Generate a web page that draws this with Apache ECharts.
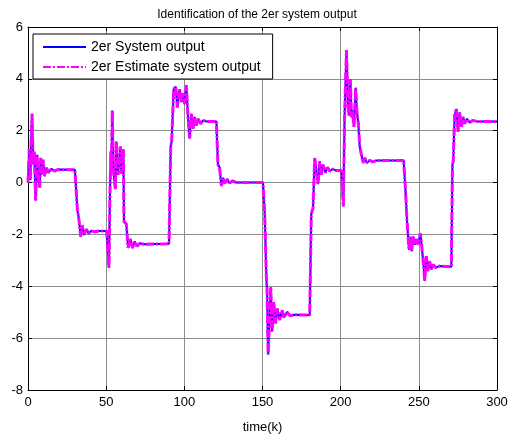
<!DOCTYPE html>
<html>
<head>
<meta charset="utf-8">
<script src="https://cdn.jsdelivr.net/npm/echarts@6/dist/echarts.min.js"></script>
<style>
  html, body { margin: 0; padding: 0; background: #fff; }
  #chart { width: 514px; height: 439px; }
</style>
</head>
<body>
<div id="chart"></div>
<script>
// time index (k) of each read-off point
const timeK = [
  0, 0.8, 1.5, 2.0, 2.6, 3.3, 4.0, 4.9, 5.8, 6.6, 7.5, 8.1, 9.0, 9.6, 10.7, 11.8, 13.2, 15, 17, 19, 30,
  31.6, 32.4, 33.7, 34.6, 35.8, 37.3, 38.8, 40.5, 42.7, 45, 50.3,
  51.0, 51.8, 52.4, 53.0, 53.3, 53.9, 54.5, 55.0, 55.9, 56.5, 57.6, 58.6, 59.1, 59.7, 60.2, 61.0,
  61.4, 62.9, 64, 65.5, 66.8, 68.3, 69.7, 71.5, 74, 90.2,
  91.3, 91.9, 93.2, 94.5, 95.5, 97, 98.1, 99.2, 100.2, 101.3, 102.4, 103.4, 104.5, 105.6, 106.6,
  107.7, 108.8, 110.3, 112, 114, 120.5,
  121.5, 122.5, 123.7, 124.8, 125.8, 127.3, 129, 131, 133, 150.3,
  151.4, 152.5, 152.9, 153.6, 155.3, 156.1, 157.2, 158.4, 159.5, 161, 162.5, 163.7, 165.7, 167.7, 170, 180.2,
  181.2, 182.3, 183.4, 184.5, 185.5, 186.6, 187.7, 188.7, 190.2, 191.5, 193, 195, 197, 200.5,
  201.1, 201.7, 202.5, 203.7, 204.7, 205.3, 206.2, 206.9, 207.5, 208.5, 209.6, 210.4, 211.3, 212.2,
  213.2, 214.3, 215.4, 216.8, 218.6, 220.5, 223, 240.3,
  241.6, 242.4, 243, 243.7, 244.6, 245.4, 246.3, 247.4, 248.5, 249.5, 251, 251.7, 253.1, 253.7,
  254.8, 255.8, 256.9, 258, 259, 260.7, 263, 270.8,
  271.5, 272, 272.9, 274, 275.1, 276.1, 277.2, 278.3, 279.3, 280.8, 282.5, 284.6, 287, 300
]

// 2er system output
const systemOutput = [
  0, 1.3, 0.1, 1.6, 2.65, 0.7, 1.2, -0.69, 1.07, 0.2, -0.19, 0.95, 0.31, 0.88, 0.25, 0.57, 0.38, 0.53, 0.44, 0.5, 0.49,
  -1.07, -1.33, -2.08, -1.64, -2.02, -1.8, -1.96, -1.86, -1.9, -1.87, -1.87,
  -2.5, -3.28, -0.5, 1.2, 0.4, 2.78, 0.8, 0.19, -0.25, 1.58, 0.3, 1.07, 1.39, 0.35, 0.69, 1.28,
  -1.5, -1.6, -2.52, -2.18, -2.52, -2.27, -2.46, -2.34, -2.38, -2.36,
  1.4, 1.6, 3.6, 3.7, 2.9, 3.6, 3.1, 3.45, 3.03, 3.75, 2.46, 1.7, 2.65, 2.08, 2.53,
  2.21, 2.46, 2.27, 2.4, 2.36, 2.36,
  0.69, 0.6, -0.13, 0.19, -0.04, 0.13, -0.02, 0.07, 0, 0,
  -1.2, -3.72, -4.1, -6.63, -4.04, -5.74, -4.61, -5.43, -4.86, -5.3, -4.92, -5.2, -4.99, -5.14, -5.1, -5.11,
  -1.2, -1.0, 0.95, 1.01, -0.06, 0.82, 0.31, 0.69, 0.38, 0.59, 0.44, 0.52, 0.47, 0.47,
  -0.19, -0.92, 2.5, 5.11, 2.97, 2.59, 3.98, 2.52, 2.8, 2.15, 3.66, 2.71, 2.28, 1.39,
  1.33, 0.76, 0.95, 0.76, 0.86, 0.8, 0.85, 0.85,
  -0.44, -1.45, -1.5, -2.59, -2.08, -2.65, -2.08, -2.4, -2.18, -2.4, -1.96, -2.36, -3.22, -3.79,
  -2.84, -3.41, -3.03, -3.35, -3.16, -3.28, -3.22, -3.25,
  0.69, 0.82, 2.59, 2.84, 1.96, 2.71, 2.15, 2.53, 2.27, 2.46, 2.31, 2.4, 2.36, 2.36
]

// estimate lies on top of the system output everywhere in the picture
const estimateOutput = [
  0, 1.3, 0.1, 1.6, 2.65, 0.7, 1.2, -0.69, 1.07, 0.2, -0.19, 0.95, 0.31, 0.88, 0.25, 0.57, 0.38, 0.53, 0.44, 0.5, 0.49,
  -1.07, -1.33, -2.08, -1.64, -2.02, -1.8, -1.96, -1.86, -1.9, -1.87, -1.87,
  -2.5, -3.28, -0.5, 1.2, 0.4, 2.78, 0.8, 0.19, -0.25, 1.58, 0.3, 1.07, 1.39, 0.35, 0.69, 1.28,
  -1.5, -1.6, -2.52, -2.18, -2.52, -2.27, -2.46, -2.34, -2.38, -2.36,
  1.4, 1.6, 3.6, 3.7, 2.9, 3.6, 3.1, 3.45, 3.03, 3.75, 2.46, 1.7, 2.65, 2.08, 2.53,
  2.21, 2.46, 2.27, 2.4, 2.36, 2.36,
  0.69, 0.6, -0.13, 0.19, -0.04, 0.13, -0.02, 0.07, 0, 0,
  -1.2, -3.72, -4.1, -6.63, -4.04, -5.74, -4.61, -5.43, -4.86, -5.3, -4.92, -5.2, -4.99, -5.14, -5.1, -5.11,
  -1.2, -1.0, 0.95, 1.01, -0.06, 0.82, 0.31, 0.69, 0.38, 0.59, 0.44, 0.52, 0.47, 0.47,
  -0.19, -0.92, 2.5, 5.11, 2.97, 2.59, 3.98, 2.52, 2.8, 2.15, 3.66, 2.71, 2.28, 1.39,
  1.33, 0.76, 0.95, 0.76, 0.86, 0.8, 0.85, 0.85,
  -0.44, -1.45, -1.5, -2.59, -2.08, -2.65, -2.08, -2.4, -2.18, -2.4, -1.96, -2.36, -3.22, -3.79,
  -2.84, -3.41, -3.03, -3.35, -3.16, -3.28, -3.22, -3.25,
  0.69, 0.82, 2.59, 2.84, 1.96, 2.71, 2.15, 2.53, 2.27, 2.46, 2.31, 2.4, 2.36, 2.36
]

const seriesNames = ['2er System output', '2er Estimate system output']
const xTicks = { min: 0, max: 300, interval: 50 }
const yTicks = { min: -8, max: 6, interval: 2 }

const font = "'Liberation Sans', Arial, sans-serif"

function pairs (ys) {
  return timeK.map((k, i) => [k, ys[i]])
}

const boxAxis = {
  axisLine: { show: true, onZero: false, lineStyle: { color: '#000', width: 1 } },
  axisTick: { show: true, inside: true, length: 4, lineStyle: { color: '#000' } }
}

let option = {
  animation: false,
  backgroundColor: '#fff',
  title: {
    text: 'Identification of the 2er system output',
    left: 'center',
    top: 4,
    textStyle: { fontFamily: font, fontSize: 12, fontWeight: 'normal', color: '#000' }
  },
  legend: {
    data: seriesNames,
    orient: 'vertical',
    left: 33,
    top: 34,
    padding: [6, 12, 5, 9],
    itemGap: 6,
    itemWidth: 43,
    itemHeight: 14,
    backgroundColor: '#fff',
    borderColor: '#000',
    borderWidth: 1,
    borderRadius: 0,
    itemStyle: { opacity: 0 },
    textStyle: { fontFamily: font, fontSize: 14, color: '#000', padding: [0, 0, 0, 0] }
  },
  grid: { left: 28, right: 17, top: 27, bottom: 42, containLabel: false },
  xAxis: [
    Object.assign({
      type: 'value',
      min: xTicks.min,
      max: xTicks.max,
      interval: xTicks.interval,
      position: 'bottom',
      name: 'time(k)',
      nameLocation: 'middle',
      nameGap: 31,
      nameTextStyle: { fontFamily: font, fontSize: 13, color: '#000' },
      axisLabel: { fontFamily: font, fontSize: 13, color: '#000', margin: 6 },
      splitLine: { show: true, lineStyle: { color: '#8c8c8c', width: 1 } }
    }, boxAxis),
    Object.assign({
      type: 'value',
      min: xTicks.min,
      max: xTicks.max,
      interval: xTicks.interval,
      position: 'top',
      axisLabel: { show: false },
      splitLine: { show: false }
    }, boxAxis)
  ],
  yAxis: [
    Object.assign({
      type: 'value',
      min: yTicks.min,
      max: yTicks.max,
      interval: yTicks.interval,
      position: 'left',
      axisLabel: { fontFamily: font, fontSize: 13, color: '#000', margin: 5 },
      splitLine: { show: true, lineStyle: { color: '#8c8c8c', width: 1 } }
    }, boxAxis),
    Object.assign({
      type: 'value',
      min: yTicks.min,
      max: yTicks.max,
      interval: yTicks.interval,
      position: 'right',
      axisLabel: { show: false },
      splitLine: { show: false }
    }, boxAxis)
  ],
  series: [
    {
      name: seriesNames[0],
      type: 'line',
      data: pairs(systemOutput),
      symbol: 'none',
      color: '#0000ff',
      lineStyle: { color: '#0000ff', width: 2 },
      z: 2
    },
    {
      name: seriesNames[1],
      type: 'line',
      data: pairs(estimateOutput),
      symbol: 'none',
      color: '#ff00ff',
      lineStyle: { color: '#ff00ff', width: 3, type: [8, 2, 2, 2] },
      z: 3
    }
  ]
}

let chart = echarts.init(document.getElementById('chart'))
chart.setOption(option)
</script>
</body>
</html>
